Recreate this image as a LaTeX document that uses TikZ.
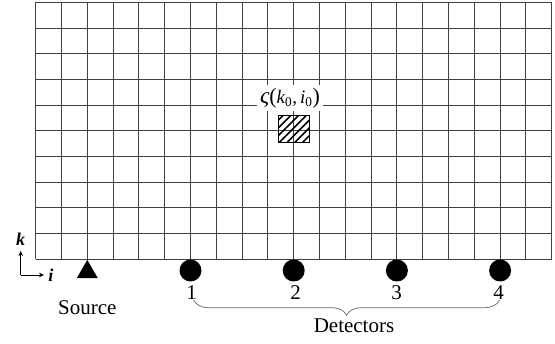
\documentclass[tikz,border=0pt]{standalone}
\usepackage{fontspec}
\setmainfont{Liberation Serif}
\usetikzlibrary{shapes.geometric,patterns.meta,decorations.pathreplacing,arrows.meta}
\tikzset{
  gridline/.style={line width=0.9pt, draw=black!75},
  detector/.style={circle, fill=black, inner sep=0pt, minimum size=22pt},
  sourcemark/.style={regular polygon, regular polygon sides=3, fill=black, inner sep=0pt, minimum size=24.2pt},
  txt/.style={inner sep=0pt, font=\fontsize{21}{21}\selectfont},
  axlabel/.style={inner sep=0pt, font=\fontsize{18}{18}\selectfont\bfseries\itshape},
  axarrow/.style={line width=0.8pt, -{Stealth[length=5pt,width=4.5pt]}},
  bracestyle/.style={draw=black!60, line width=0.7pt, decorate, decoration={brace, mirror, amplitude=15pt}},
}
\newcommand{\subz}{\textsubscript{\upshape 0}}
\begin{document}
\begin{tikzpicture}[x=1pt,y=-1pt]
\useasboundingbox (0,0) rectangle (555,344);
% grid
\foreach \n in {0,...,20}
  \draw[gridline] ({35.7+25.8*\n},2.5) -- ({35.7+25.8*\n},259.3);
\foreach \m in {0,...,10}
  \draw[gridline] (35.7,{2.5+25.68*\m}) -- (551.7,{2.5+25.68*\m});
% label and hatched cell
\node[fill=white, inner xsep=3pt, inner ysep=3pt, font=\fontsize{19}{19}\selectfont] (lbl) at (290,98)
  {{\fontsize{23}{23}\selectfont\itshape ς}{\fontsize{22}{22}\selectfont(}\itshape k\subz\upshape,\,\itshape i\subz\upshape{\fontsize{22}{22}\selectfont)}};
\node[draw=black, line width=0.9pt, fill=white, minimum width=31pt, minimum height=27pt, inner sep=0pt,
      pattern={Lines[angle=45,distance=5.5pt,line width=1.6pt]}] (cell) at (293.6,128.7) {};
% source
\node[sourcemark] (src) at (87.3,272) {};
\node[txt, anchor=base] (srclbl) at (87.3,315) {Source};
% detectors
\node[detector] (d1) at (190.5,270.5) {};
\node[detector] (d2) at (293.7,270.5) {};
\node[detector] (d3) at (396.9,270.5) {};
\node[detector] (d4) at (500.1,270.5) {};
\node[txt, anchor=base] (n1) at (191.7,300) {1};
\node[txt, anchor=base] (n2) at (295.5,300) {2};
\node[txt, anchor=base] (n3) at (396.7,300) {3};
\node[txt, anchor=base] (n4) at (498.5,300) {4};
\draw[bracestyle] ([xshift=2pt]n1.south) -- ([xshift=1pt]n4.south);
\node[txt, anchor=base] (det) at (354,333) {Detectors};
% axes
\coordinate (ax0) at (20.7,275);
\coordinate (axk) at (20.7,251);
\coordinate (axi) at (44,275);
\draw[axarrow] (ax0) -- (axk);
\draw[axarrow] (ax0) -- (axi);
\node[axlabel, anchor=base] (klbl) at (20.7,246) {k};
\node[axlabel, anchor=base] (ilbl) at (50.8,281.5) {i};
\end{tikzpicture}
\end{document}
